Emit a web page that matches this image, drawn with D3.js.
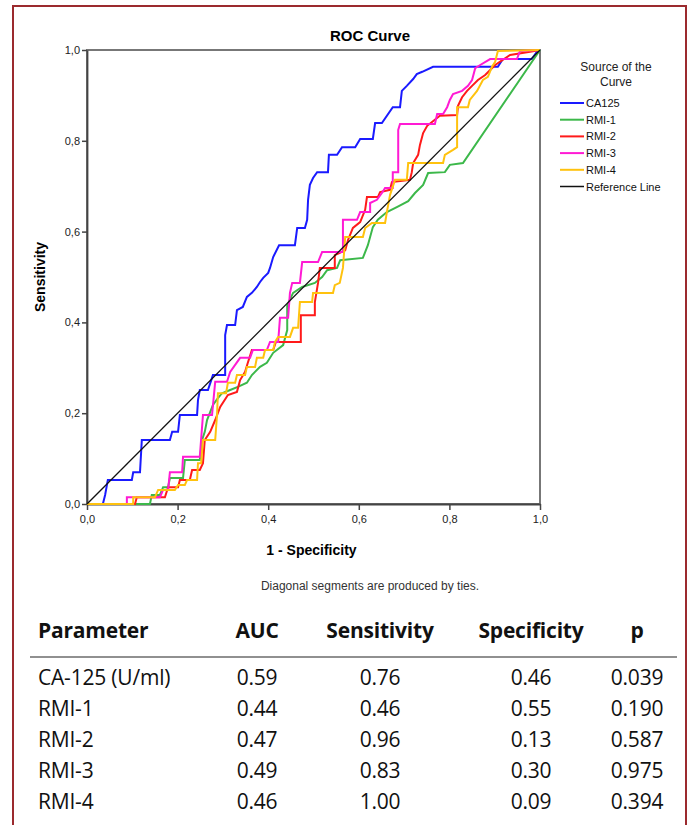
<!DOCTYPE html>
<html>
<head>
<meta charset="utf-8">
<script src="https://cdnjs.cloudflare.com/ajax/libs/d3/7.8.5/d3.min.js"></script>
<style>
  html, body { margin: 0; padding: 0; background: #fff; }
  svg { display: block; }
</style>
</head>
<body>
<svg id="chart" width="696" height="825"></svg>
<script>
// ROC curve points, [1 - specificity, sensitivity]
const ca125 = [[0,0],[0.035,0],[0.040,0.020],[0.046,0.053],[0.099,0.053],[0.102,0.070],[0.117,0.070],[0.121,0.141],[0.183,0.141],[0.188,0.159],[0.201,0.159],[0.205,0.196],[0.243,0.196],[0.245,0.229],[0.249,0.251],[0.267,0.251],[0.278,0.284],[0.305,0.284],[0.305,0.372],[0.309,0.394],[0.327,0.394],[0.331,0.427],[0.344,0.434],[0.353,0.456],[0.364,0.465],[0.375,0.478],[0.382,0.489],[0.389,0.498],[0.400,0.509],[0.404,0.520],[0.411,0.544],[0.424,0.570],[0.459,0.570],[0.464,0.608],[0.481,0.608],[0.486,0.626],[0.488,0.670],[0.492,0.703],[0.499,0.718],[0.508,0.731],[0.532,0.731],[0.534,0.769],[0.552,0.769],[0.563,0.786],[0.592,0.786],[0.603,0.804],[0.631,0.804],[0.636,0.839],[0.651,0.839],[0.675,0.874],[0.691,0.874],[0.695,0.910],[0.706,0.921],[0.720,0.936],[0.728,0.947],[0.740,0.952],[0.764,0.963],[0.907,0.963],[0.918,0.980],[0.982,0.980],[0.993,0.996],[1,1]];
const rmi1 = [[0,0],[0.139,0],[0.143,0.020],[0.161,0.020],[0.168,0.037],[0.179,0.037],[0.183,0.057],[0.212,0.057],[0.216,0.097],[0.249,0.097],[0.254,0.141],[0.260,0.159],[0.265,0.185],[0.278,0.218],[0.289,0.233],[0.298,0.244],[0.316,0.251],[0.333,0.258],[0.353,0.267],[0.364,0.284],[0.382,0.302],[0.397,0.311],[0.411,0.333],[0.433,0.350],[0.442,0.383],[0.442,0.438],[0.455,0.465],[0.475,0.478],[0.503,0.487],[0.519,0.500],[0.530,0.515],[0.552,0.520],[0.559,0.537],[0.609,0.542],[0.620,0.570],[0.631,0.610],[0.642,0.626],[0.662,0.643],[0.684,0.654],[0.709,0.667],[0.724,0.685],[0.742,0.703],[0.753,0.729],[0.790,0.731],[0.801,0.747],[0.830,0.751],[1,1]];
const rmi2 = [[0,0],[0.106,0],[0.110,0.015],[0.172,0.015],[0.179,0.037],[0.201,0.037],[0.205,0.053],[0.227,0.053],[0.232,0.075],[0.249,0.075],[0.256,0.090],[0.260,0.141],[0.272,0.159],[0.283,0.185],[0.294,0.214],[0.311,0.240],[0.331,0.247],[0.338,0.273],[0.349,0.291],[0.355,0.311],[0.364,0.339],[0.411,0.339],[0.417,0.357],[0.472,0.357],[0.472,0.416],[0.503,0.416],[0.503,0.445],[0.510,0.487],[0.514,0.520],[0.547,0.520],[0.547,0.548],[0.570,0.559],[0.576,0.581],[0.587,0.608],[0.603,0.621],[0.614,0.648],[0.618,0.676],[0.642,0.676],[0.647,0.687],[0.669,0.692],[0.673,0.709],[0.713,0.714],[0.717,0.731],[0.720,0.751],[0.731,0.769],[0.735,0.791],[0.742,0.817],[0.751,0.833],[0.779,0.855],[0.817,0.857],[0.819,0.877],[0.828,0.896],[0.839,0.910],[0.850,0.921],[0.863,0.934],[0.879,0.945],[0.901,0.967],[0.934,0.989],[0.978,0.996],[1,1]];
const rmi3 = [[0,0],[0.088,0],[0.088,0.015],[0.161,0.015],[0.168,0.031],[0.179,0.031],[0.183,0.070],[0.210,0.070],[0.212,0.104],[0.249,0.104],[0.256,0.196],[0.276,0.196],[0.283,0.269],[0.309,0.269],[0.316,0.291],[0.338,0.322],[0.360,0.322],[0.366,0.339],[0.397,0.339],[0.404,0.357],[0.422,0.357],[0.426,0.410],[0.444,0.410],[0.448,0.465],[0.453,0.487],[0.470,0.487],[0.475,0.533],[0.510,0.533],[0.519,0.555],[0.565,0.555],[0.565,0.626],[0.596,0.626],[0.603,0.643],[0.625,0.643],[0.625,0.663],[0.640,0.670],[0.651,0.685],[0.658,0.696],[0.675,0.696],[0.675,0.731],[0.687,0.731],[0.687,0.824],[0.691,0.837],[0.768,0.837],[0.773,0.859],[0.786,0.859],[0.795,0.874],[0.801,0.890],[0.808,0.903],[0.828,0.910],[0.841,0.921],[0.850,0.934],[0.857,0.960],[0.868,0.967],[0.890,0.980],[0.949,0.980],[0.956,0.998],[1,1]];
const rmi4 = [[0,0],[0.102,0],[0.102,0.015],[0.150,0.015],[0.157,0.031],[0.194,0.031],[0.201,0.042],[0.216,0.042],[0.221,0.053],[0.243,0.053],[0.245,0.090],[0.252,0.090],[0.256,0.141],[0.283,0.141],[0.287,0.196],[0.289,0.244],[0.307,0.244],[0.311,0.267],[0.327,0.267],[0.331,0.284],[0.349,0.284],[0.353,0.302],[0.371,0.302],[0.375,0.322],[0.389,0.322],[0.393,0.339],[0.411,0.339],[0.415,0.357],[0.422,0.368],[0.448,0.368],[0.455,0.388],[0.466,0.388],[0.470,0.445],[0.497,0.445],[0.499,0.465],[0.543,0.465],[0.547,0.482],[0.558,0.487],[0.565,0.520],[0.570,0.588],[0.609,0.588],[0.614,0.608],[0.629,0.619],[0.658,0.619],[0.662,0.643],[0.669,0.681],[0.680,0.714],[0.706,0.714],[0.709,0.751],[0.786,0.751],[0.790,0.769],[0.808,0.780],[0.817,0.786],[0.817,0.874],[0.841,0.874],[0.845,0.890],[0.861,0.910],[0.874,0.934],[0.885,0.941],[0.894,0.963],[0.901,0.974],[0.907,0.998],[1,1]];
const refLine = [[0,0],[1,1]];

const seriesNames = ['CA125', 'RMI-1', 'RMI-2', 'RMI-3', 'RMI-4', 'Reference Line'];
const seriesData = [ca125, rmi1, rmi2, rmi3, rmi4, refLine];
const seriesColors = ['#1a1aff', '#3cb84a', '#ff1a1a', '#ff1ad4', '#ffc20e', '#111111'];

const tickValues = [0, 0.2, 0.4, 0.6, 0.8, 1.0];
const tickLabels = ['0,0', '0,2', '0,4', '0,6', '0,8', '1,0'];

// table under the chart
const tableHeader = ['Parameter', 'AUC', 'Sensitivity', 'Specificity', 'p'];
const tableParams = ['CA-125 (U/ml)', 'RMI-1', 'RMI-2', 'RMI-3', 'RMI-4'];
const tableAUC = ['0.59', '0.44', '0.47', '0.49', '0.46'];
const tableSens = ['0.76', '0.46', '0.96', '0.83', '1.00'];
const tableSpec = ['0.46', '0.55', '0.13', '0.30', '0.09'];
const tableP = ['0.039', '0.190', '0.587', '0.975', '0.394'];

const svg = d3.select('#chart');
const chartFont = '"Liberation Sans", Arial, sans-serif';
const tableFont = '"Open Sans", Lato, sans-serif';

// outer maroon frame (open at the bottom)
svg.append('rect')
  .attr('x', 13).attr('y', 6)
  .attr('width', 673).attr('height', 840)
  .attr('fill', 'none')
  .attr('stroke', '#9b2a2e')
  .attr('stroke-width', 2);

const plot = { left: 87, top: 50, right: 540, bottom: 504 };
const x = d3.scaleLinear().domain([0, 1]).range([plot.left, plot.right]);
const y = d3.scaleLinear().domain([0, 1]).range([plot.bottom, plot.top]);

// title
svg.append('text')
  .attr('x', 370).attr('y', 41)
  .attr('text-anchor', 'middle')
  .style('font-family', chartFont)
  .style('font-size', '15px')
  .style('font-weight', 'bold')
  .text('ROC Curve');

// plot frame (top and right)
svg.append('rect')
  .attr('x', plot.left).attr('y', plot.top)
  .attr('width', plot.right - plot.left)
  .attr('height', plot.bottom - plot.top)
  .attr('fill', '#fff')
  .attr('stroke', '#777')
  .attr('stroke-width', 2);

// axes
const xAxis = d3.axisBottom(x).tickValues(tickValues)
  .tickFormat((d, i) => tickLabels[i]).tickSizeInner(6).tickSizeOuter(0);
const yAxis = d3.axisLeft(y).tickValues(tickValues)
  .tickFormat((d, i) => tickLabels[i]).tickSizeInner(5).tickSizeOuter(0);

const gx = svg.append('g').attr('transform', `translate(0,${plot.bottom})`).call(xAxis);
const gy = svg.append('g').attr('transform', `translate(${plot.left},0)`).call(yAxis);

[gx, gy].forEach(g => {
  g.select('.domain').attr('stroke', '#444').attr('stroke-width', 1.8);
  g.selectAll('.tick line').attr('stroke', '#444').attr('stroke-width', 1.5);
  g.selectAll('.tick text')
    .style('font-family', chartFont)
    .style('font-size', '11px')
    .attr('fill', '#222');
});
gx.selectAll('.tick text').attr('dy', '0.9em');
gy.selectAll('.tick text').attr('x', -7).attr('dy', '0.32em');

// axis titles
svg.append('text')
  .attr('x', x(0.5) - 2).attr('y', 555)
  .attr('text-anchor', 'middle')
  .style('font-family', chartFont)
  .style('font-size', '14px')
  .style('font-weight', 'bold')
  .text('1 - Specificity');

svg.append('text')
  .attr('transform', `translate(45,${y(0.5)}) rotate(-90)`)
  .attr('text-anchor', 'middle')
  .style('font-family', chartFont)
  .style('font-size', '14px')
  .style('font-weight', 'bold')
  .text('Sensitivity');

// curves
const line = d3.line().x(d => x(d[0])).y(d => y(d[1]));
seriesData.forEach((data, i) => {
  svg.append('path')
    .datum(data)
    .attr('d', line)
    .attr('fill', 'none')
    .attr('stroke', seriesColors[i])
    .attr('stroke-width', i === 5 ? 1.3 : 2)
    .attr('stroke-linejoin', 'miter');
});

// legend
const legend = svg.append('g').style('font-family', chartFont);
legend.append('text')
  .attr('x', 616).attr('y', 71)
  .attr('text-anchor', 'middle')
  .style('font-size', '12px')
  .attr('fill', '#222')
  .text('Source of the');
legend.append('text')
  .attr('x', 616).attr('y', 86)
  .attr('text-anchor', 'middle')
  .style('font-size', '12px')
  .attr('fill', '#222')
  .text('Curve');

seriesNames.forEach((name, i) => {
  const ly = 103 + i * 16.7;
  legend.append('line')
    .attr('x1', 560).attr('x2', 584)
    .attr('y1', ly).attr('y2', ly)
    .attr('stroke', seriesColors[i])
    .attr('stroke-width', i === 5 ? 1.5 : 2);
  legend.append('text')
    .attr('x', 586).attr('y', ly + 4)
    .style('font-size', '11px')
    .attr('fill', '#111')
    .text(name);
});

// caption
svg.append('text')
  .attr('x', 370).attr('y', 590)
  .attr('text-anchor', 'middle')
  .style('font-family', chartFont)
  .style('font-size', '12px')
  .attr('fill', '#333')
  .text('Diagonal segments are produced by ties.');

// table
const colX = [38, 257, 380, 531, 637];
const colAnchor = ['start', 'middle', 'middle', 'middle', 'middle'];
const rowY = d3.scalePoint().domain(tableParams).range([685, 809]);

tableHeader.forEach((h, i) => {
  svg.append('text')
    .attr('x', colX[i]).attr('y', 638)
    .attr('text-anchor', colAnchor[i])
    .style('font-family', tableFont)
    .style('font-size', '21px')
    .style('font-weight', 'bold')
    .style('letter-spacing', '-0.2px')
    .attr('fill', '#111')
    .text(h);
});

svg.append('line')
  .attr('x1', 30).attr('x2', 677)
  .attr('y1', 657).attr('y2', 657)
  .attr('stroke', '#222')
  .attr('stroke-width', 1.2);

const columns = [tableParams, tableAUC, tableSens, tableSpec, tableP];
tableParams.forEach((p, r) => {
  columns.forEach((col, c) => {
    svg.append('text')
      .attr('x', colX[c]).attr('y', rowY(p))
      .attr('text-anchor', colAnchor[c])
      .style('font-family', tableFont)
      .style('font-size', '21px')
      .style('letter-spacing', '-0.2px')
      .attr('fill', '#111')
      .text(col[r]);
  });
});
</script>
</body>
</html>
